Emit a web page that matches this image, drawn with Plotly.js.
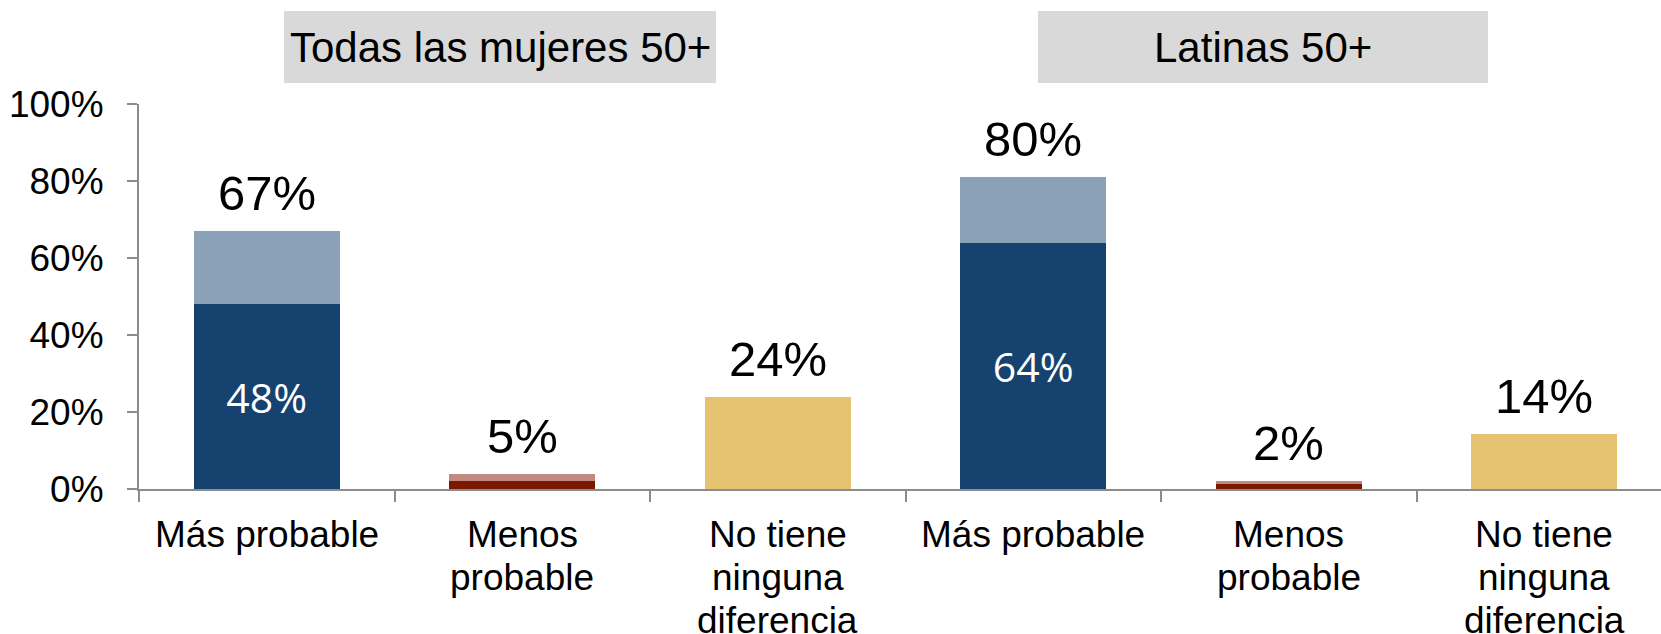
<!DOCTYPE html>
<html>
<head>
<meta charset="utf-8">
<script src="https://cdn.plot.ly/plotly-3.0.1.min.js"></script>
<style>html,body{margin:0;padding:0;overflow:hidden;background:#fff}</style>
</head>
<body>
<div id="chart"></div>
<script>
// Data
const categoryIds = ["c0","c1","c2","c3","c4","c5"];
const categoryLabels = ["Más probable","Menos<br>probable","No tiene<br>ninguna<br>diferencia","Más probable","Menos<br>probable","No tiene<br>ninguna<br>diferencia"];
const baseValues = [48, 2, 24, 64, 1.4, 14.2];
const topValues = [19, 2, 0, 17, 0.6, 0];
const baseLabels = ["48%","","","64%","",""];
const totalLabels = ["67%","5%","24%","80%","2%","14%"];
const groupTitles = ["Todas las mujeres 50+","Latinas 50+"];
const yTickValues = [0, 20, 40, 60, 80, 100];
const yTickLabels = ["0%","20%","40%","60%","80%","100%"];

const baseColors = ["#15426F","#7B1800","#E4C26F","#15426F","#7B1800","#E4C26F"];
const topColors = ["#8AA1B7","#C08A80","#E4C26F","#8AA1B7","#C08A80","#E4C26F"];

const FONT = "Liberation Sans, Arial, sans-serif";

const traces = [
  {
    type: "bar", x: categoryIds, y: baseValues,
    marker: {color: baseColors},
    text: baseLabels, textposition: "inside", insidetextanchor: "middle",
    textfont: {family: "Open Sans, sans-serif", size: 41, color: "#ffffff"},
    hoverinfo: "none", showlegend: false
  },
  {
    type: "bar", x: categoryIds, y: topValues,
    marker: {color: topColors},
    hoverinfo: "none", showlegend: false, textposition: "none"
  }
];

const annotations = categoryIds.map((c, i) => ({
  x: c, y: baseValues[i] + topValues[i], xref: "x", yref: "y",
  text: totalLabels[i], showarrow: false, yanchor: "bottom", yshift: 9,
  font: {family: FONT, size: 49, color: "#000"}
}));

// category labels, one annotation per line
categoryIds.forEach((c, i) => {
  categoryLabels[i].split("<br>").forEach((line, k) => {
    annotations.push({
      x: c, xref: "x", y: 0, yref: "paper", text: line, showarrow: false,
      xanchor: "center", yanchor: "middle", yshift: -(45 + 43 * k),
      font: {family: FONT, size: 37, color: "#000"}
    });
  });
});

const boxes = [[0.0946, 0.3764], [0.5864, 0.8800]];
const shapes = boxes.map(b => ({
  type: "rect", xref: "paper", yref: "paper",
  x0: b[0], x1: b[1], y0: 1.0545, y1: 1.2416,
  fillcolor: "#D9D9D9", line: {width: 0}, layer: "below"
}));
groupTitles.forEach((t, i) => {
  annotations.push({
    x: (boxes[i][0] + boxes[i][1]) / 2, y: 1.148, xref: "paper", yref: "paper",
    text: t, showarrow: false, xanchor: "center", yanchor: "middle",
    font: {family: FONT, size: 42, color: "#000"}
  });
});

const layout = {
  width: 1672, height: 634,
  margin: {l: 139, r: 0, t: 104, b: 145},
  paper_bgcolor: "#fff", plot_bgcolor: "#fff",
  barmode: "stack", bargap: 0.429,
  font: {family: FONT, color: "#000"},
  xaxis: {
    type: "category", tickmode: "array", tickvals: categoryIds,
    showticklabels: false,
    tickson: "boundaries", ticks: "outside", ticklen: 11, tickwidth: 2, tickcolor: "#8c8c8c",
    showline: true, linecolor: "#8c8c8c", linewidth: 2,
    showgrid: false, zeroline: false, fixedrange: true
  },
  yaxis: {
    range: [0, 100], tickmode: "array", tickvals: yTickValues, ticktext: yTickLabels,
    ticks: "outside", ticklen: 10, tickwidth: 2, tickcolor: "#8c8c8c",
    showline: true, linecolor: "#8c8c8c", linewidth: 2,
    tickfont: {family: FONT, size: 37, color: "#000"},
    ticklabelstandoff: 16,
    showgrid: false, zeroline: false, fixedrange: true
  },
  shapes: shapes,
  annotations: annotations
};

Plotly.newPlot("chart", traces, layout, {displayModeBar: false, staticPlot: true});
</script>
</body>
</html>
